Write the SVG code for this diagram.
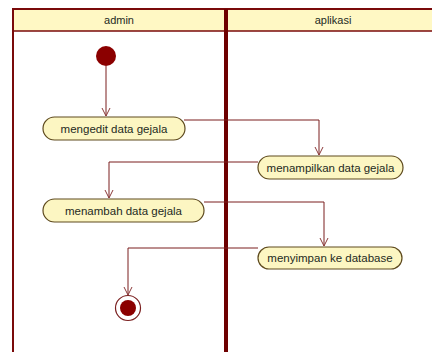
<svg xmlns="http://www.w3.org/2000/svg" width="432" height="352" viewBox="0 0 432 352">
<defs>
<style>
.lane{fill:none;stroke:#7a0a0a;stroke-width:2}
.hdr{fill:#fff8c4}
.divider{stroke:#6e0000;stroke-width:4}
.act{fill:#fcf6c2;stroke:#5e4a1e;stroke-width:1.2}
.t{font-family:"Liberation Sans",Arial,sans-serif;font-size:11.5px;fill:#1e2a1e;text-anchor:middle;dominant-baseline:central}
.h{font-size:11px}
.edge{fill:none;stroke:#7a1f1f;stroke-width:1}
</style>
<marker id="arr" markerWidth="10" markerHeight="10" refX="8" refY="5" orient="auto" markerUnits="userSpaceOnUse">
<path d="M0,1 L8,5 L0,9" fill="none" stroke="#8a3a3a" stroke-width="1"/>
</marker>
</defs>
<rect x="0" y="0" width="432" height="352" fill="#ffffff"/>
<g id="swimlanes">
<rect class="hdr" x="13" y="9" width="419" height="22"/>
<path class="lane" d="M432,9 L13,9 L13,352"/>
<line x1="13" y1="31" x2="432" y2="31" stroke="#7a0a0a" stroke-width="1.5"/>
<line class="divider" x1="226" y1="9" x2="226" y2="352"/>
<text class="t h" x="119" y="20">admin</text>
<text class="t h" x="333" y="20">aplikasi</text>
</g>
<g id="connectors">
<path class="edge" d="M106,66 L106,116" marker-end="url(#arr)"/>
<path class="edge" d="M184,120 L319,120 L319,155" marker-end="url(#arr)"/>
<path class="edge" d="M258,162 L109,162 L109,198" marker-end="url(#arr)"/>
<path class="edge" d="M204,202 L324,202 L324,246" marker-end="url(#arr)"/>
<path class="edge" d="M258,248 L128,248 L128,295" marker-end="url(#arr)"/>
</g>
<g id="start">
<circle cx="106" cy="56" r="10" fill="#8b0000"/>
</g>
<g id="n1">
<rect class="act" x="43" y="117" width="142" height="23" rx="11.5"/>
<text class="t" x="114" y="128.5">mengedit data gejala</text>
</g>
<g id="n2">
<rect class="act" x="258" y="156" width="145" height="23" rx="11.5"/>
<text class="t" x="330.5" y="167.5">menampilkan data gejala</text>
</g>
<g id="n3">
<rect class="act" x="43" y="199" width="161" height="23" rx="11.5"/>
<text class="t" x="123.5" y="210.5">menambah data gejala</text>
</g>
<g id="n4">
<rect class="act" x="258" y="247" width="144" height="22" rx="11"/>
<text class="t" x="330" y="258">menyimpan ke database</text>
</g>
<g id="end">
<circle cx="128" cy="308" r="12.5" fill="#ffffff" stroke="#7a1f1f" stroke-width="1.2"/>
<circle cx="128" cy="308" r="8" fill="#8b0000"/>
</g>
</svg>
